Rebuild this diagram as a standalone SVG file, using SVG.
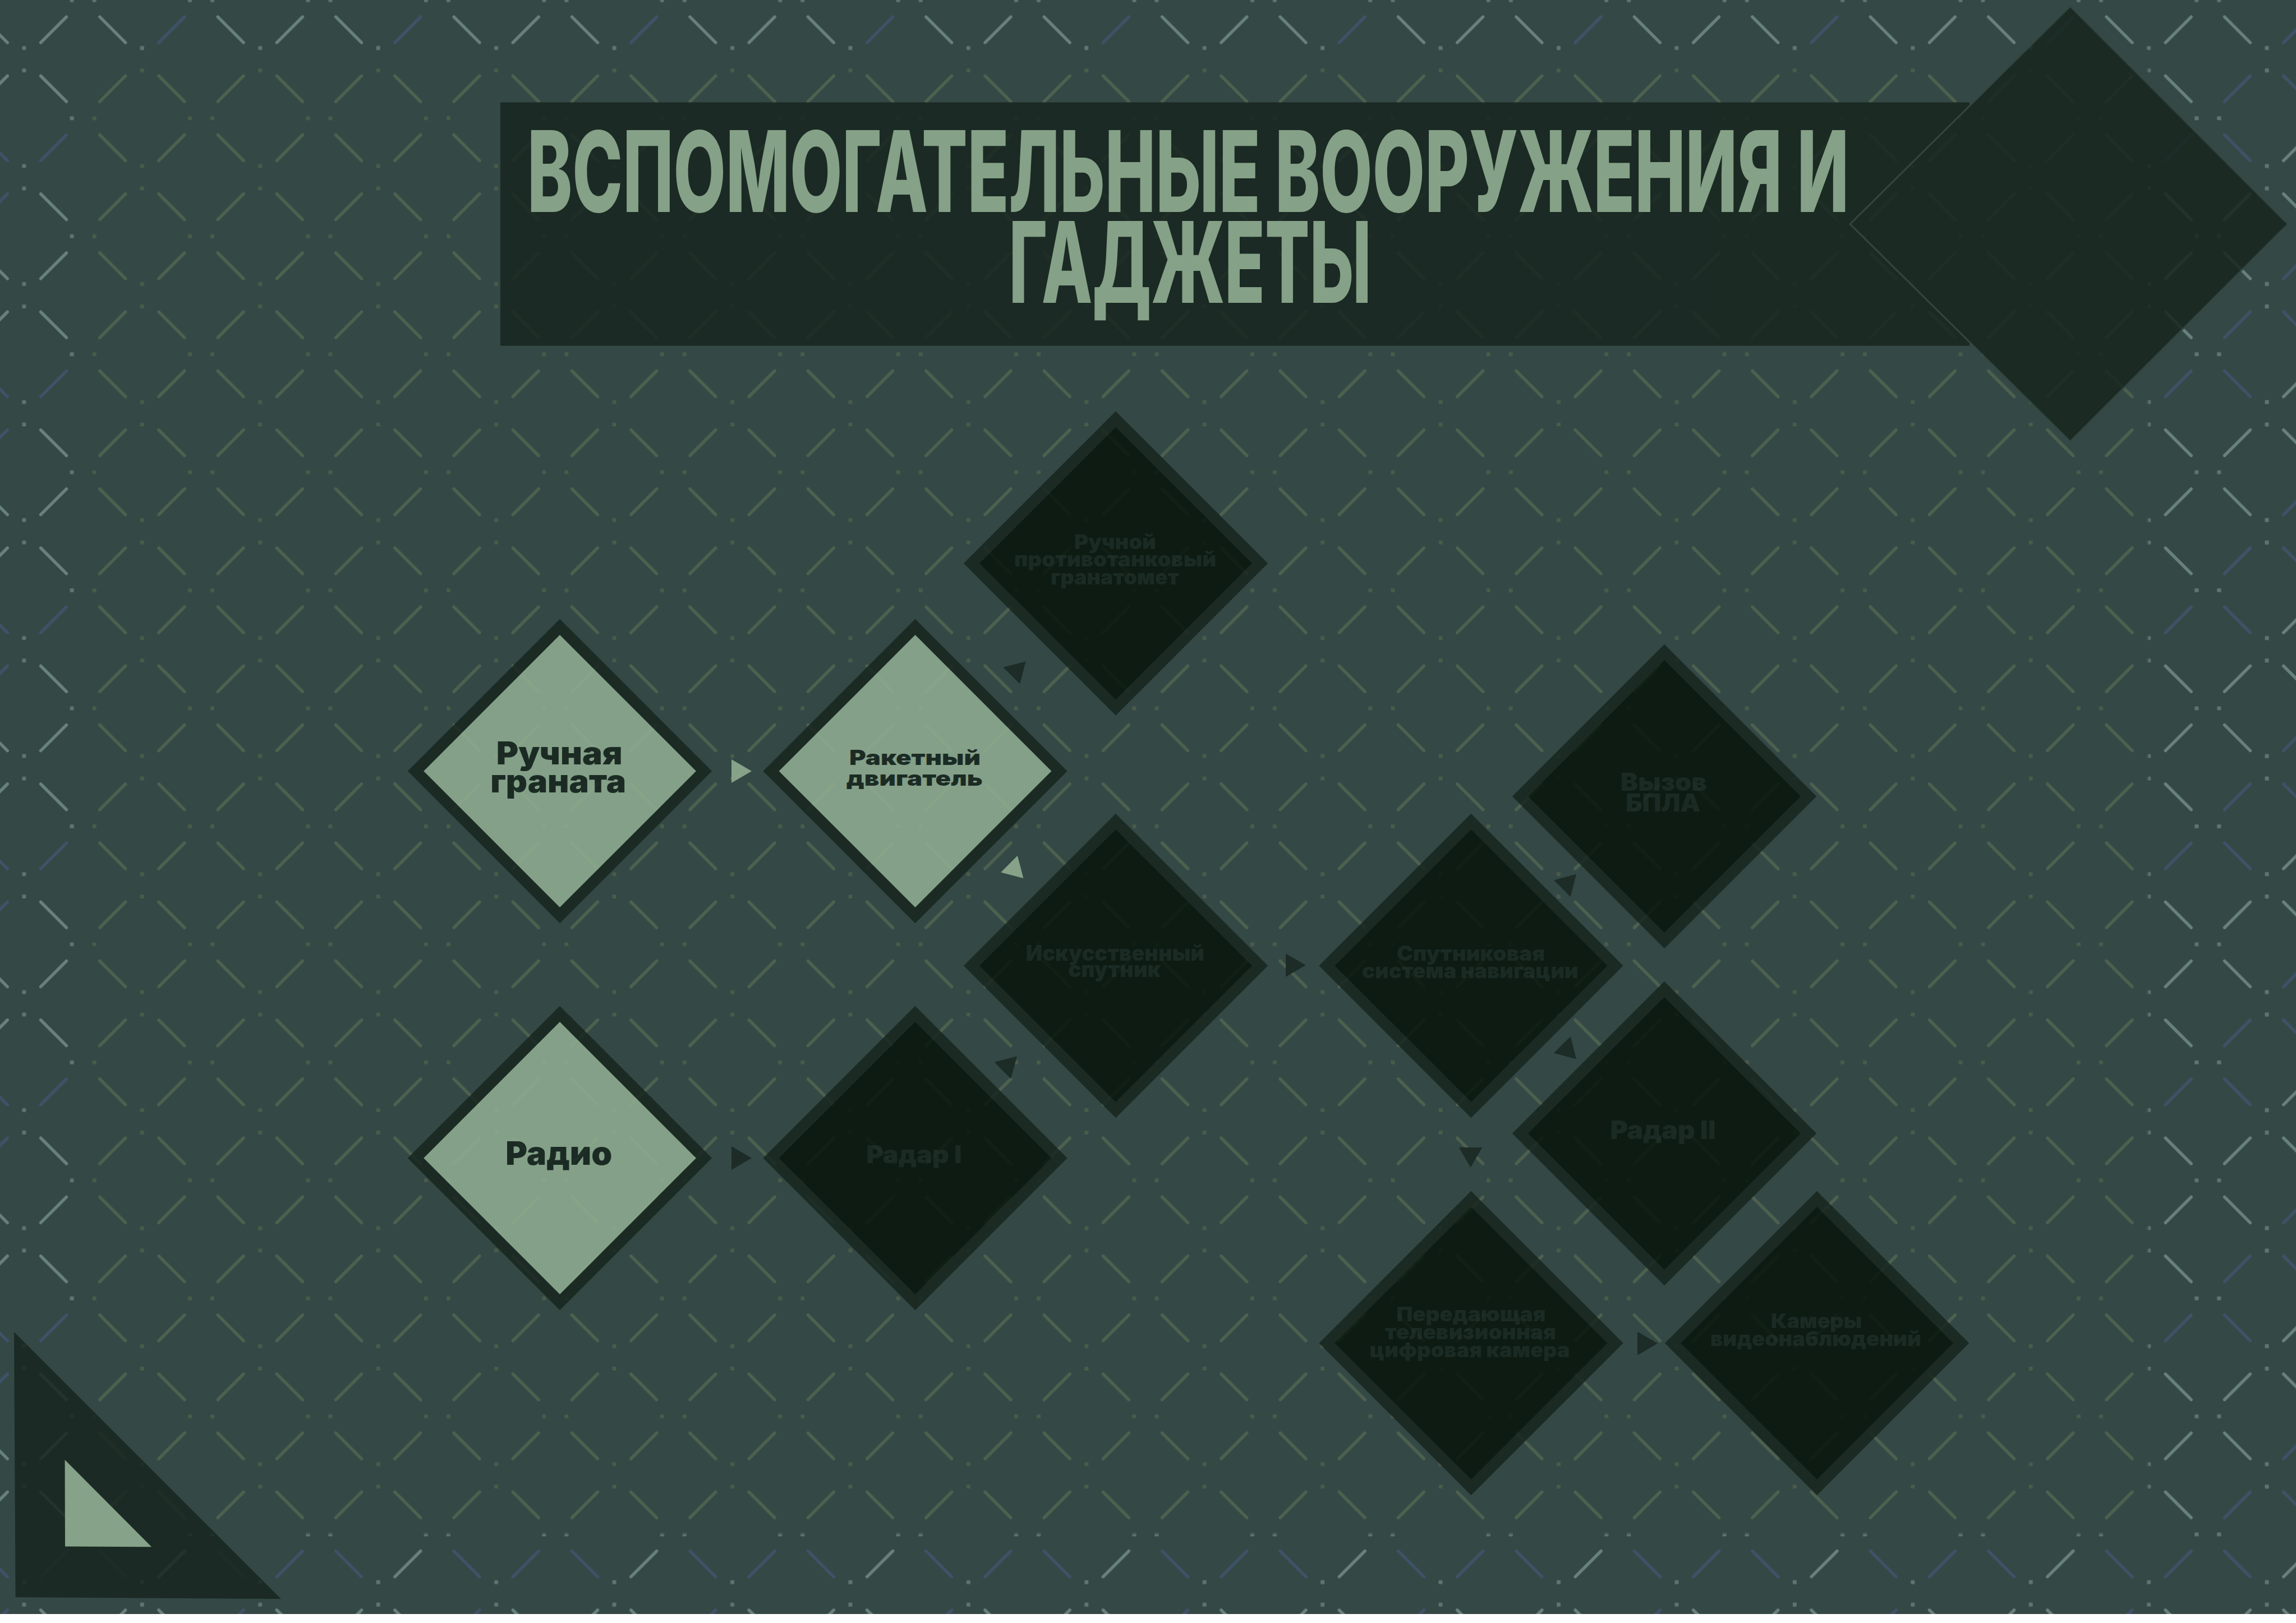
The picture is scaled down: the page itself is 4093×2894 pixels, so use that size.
<svg xmlns="http://www.w3.org/2000/svg" xmlns:xlink="http://www.w3.org/1999/xlink" width="4093" height="2894" viewBox="0 0 4093 2894">
<style>
.d{fill:none;stroke-width:5.5;stroke-linecap:round}
.g{stroke:#68817d}
.b{stroke:#3e5268}
.o{stroke:#4e614f}
.node{opacity:0.85}
.shape{stroke:#17261f;stroke-width:20;stroke-linejoin:miter}
.lit .shape{fill:#92b094}
.drk .shape{fill:#07140b}
.lbl{font-family:Inter,Roboto,"Noto Sans","DejaVu Sans",sans-serif;font-weight:900;fill:#17261f;text-anchor:middle}
.title{font-family:Inter,Roboto,"Liberation Sans",sans-serif;font-weight:800;font-size:200px;fill:#85a187;text-anchor:middle}
.panel{fill:#17261f}
.edge{fill:none;stroke:none}
</style>
<defs>
<g id="dotsg" fill="#5e7471">
<rect x="-3.5" y="81.7" width="7" height="7" rx="1.5"/><rect x="-3.5" y="121.7" width="7" height="7" rx="1.5"/>
<rect x="206.93" y="81.7" width="7" height="7" rx="1.5"/><rect x="206.93" y="121.7" width="7" height="7" rx="1.5"/>
<rect x="81.7" y="-3.5" width="7" height="7" rx="1.5"/><rect x="121.7" y="-3.5" width="7" height="7" rx="1.5"/>
<rect x="81.7" y="206.93" width="7" height="7" rx="1.5"/><rect x="121.7" y="206.93" width="7" height="7" rx="1.5"/>
</g>
<g id="dotso" fill="#4a5b49">
<rect x="-3.5" y="81.7" width="7" height="7" rx="1.5"/><rect x="-3.5" y="121.7" width="7" height="7" rx="1.5"/>
<rect x="206.93" y="81.7" width="7" height="7" rx="1.5"/><rect x="206.93" y="121.7" width="7" height="7" rx="1.5"/>
<rect x="81.7" y="-3.5" width="7" height="7" rx="1.5"/><rect x="121.7" y="-3.5" width="7" height="7" rx="1.5"/>
<rect x="81.7" y="206.93" width="7" height="7" rx="1.5"/><rect x="121.7" y="206.93" width="7" height="7" rx="1.5"/>
</g>
<pattern id="pgb" patternUnits="userSpaceOnUse" x="42.9" y="0.4" width="420.86" height="420.86">
<g class="d">
<line class="g" x1="29.67" y1="75.55" x2="75.55" y2="29.67"/>
<line class="g" x1="134.89" y1="29.67" x2="180.76" y2="75.55"/>
<line class="b" x1="180.76" y1="134.89" x2="134.89" y2="180.76"/>
<line class="g" x1="75.55" y1="180.76" x2="29.67" y2="134.89"/>
<line class="b" x1="240.1" y1="75.55" x2="285.98" y2="29.67"/>
<line class="g" x1="345.32" y1="29.67" x2="391.19" y2="75.55"/>
<line class="g" x1="391.19" y1="134.89" x2="345.32" y2="180.76"/>
<line class="b" x1="285.98" y1="180.76" x2="240.1" y2="134.89"/>
<line class="b" x1="29.67" y1="285.98" x2="75.55" y2="240.1"/>
<line class="b" x1="134.89" y1="240.1" x2="180.76" y2="285.98"/>
<line class="g" x1="180.76" y1="345.32" x2="134.89" y2="391.19"/>
<line class="g" x1="75.55" y1="391.19" x2="29.67" y2="345.32"/>
<line class="g" x1="240.1" y1="285.98" x2="285.98" y2="240.1"/>
<line class="b" x1="345.32" y1="240.1" x2="391.19" y2="285.98"/>
<line class="b" x1="391.19" y1="345.32" x2="345.32" y2="391.19"/>
<line class="g" x1="285.98" y1="391.19" x2="240.1" y2="345.32"/>
</g>
<use xlink:href="#dotsg"/>
<use xlink:href="#dotsg" x="210.43"/>
<use xlink:href="#dotsg" y="210.43"/>
<use xlink:href="#dotsg" x="210.43" y="210.43"/>
</pattern>
<pattern id="pol" patternUnits="userSpaceOnUse" x="42.9" y="0.4" width="210.43" height="210.43">
<g class="d o">
<line x1="29.67" y1="75.55" x2="75.55" y2="29.67"/>
<line x1="134.89" y1="29.67" x2="180.76" y2="75.55"/>
<line x1="180.76" y1="134.89" x2="134.89" y2="180.76"/>
<line x1="75.55" y1="180.76" x2="29.67" y2="134.89"/>
</g>
<use xlink:href="#dotso"/>
</pattern>
<marker id="al" markerUnits="userSpaceOnUse" viewBox="0 0 36 42" markerWidth="36" markerHeight="42" refX="36" refY="21" orient="auto"><path d="M0,0L36,21L0,42Z" fill="#86a288"/></marker>
<marker id="ad" markerUnits="userSpaceOnUse" viewBox="0 0 36 42" markerWidth="36" markerHeight="42" refX="36" refY="21" orient="auto"><path d="M0,0L36,21L0,42Z" fill="#1d2c26"/></marker>
</defs>

<rect x="0" y="0" width="4093" height="2894" fill="#ffffff"/>
<g id="background">
<rect x="0" y="0" width="4093" height="2878" fill="#344846"/>
<rect x="0" y="0" width="4093" height="2878" fill="url(#pgb)"/>
<rect x="148.1" y="105.6" width="3682" height="2630" fill="#344846"/>
<rect x="148.1" y="105.6" width="3682" height="2630" fill="url(#pol)"/>
</g>

<g id="corner">
<polygon points="25,2375 27.6,2848 501,2851" class="panel" opacity="0.85"/>
<polygon points="115.6,2603 116,2757.6 270.2,2758.3" fill="#86a288"/>
</g>

<g id="title">
<g opacity="0.85">
<rect x="892" y="182.5" width="2619" height="434" class="panel"/>
<polygon points="3690.5,11.2 4078.7,399.5 3690.5,787.2 3298,399.5" class="panel" stroke="#33463f" stroke-width="3"/>
</g>
<text class="title" x="2118" y="378" textLength="2356" lengthAdjust="spacingAndGlyphs">ВСПОМОГАТЕЛЬНЫЕ ВООРУЖЕНИЯ И</text>
<text class="title" x="2121.6" y="540" textLength="646" lengthAdjust="spacingAndGlyphs">ГАДЖЕТЫ</text>
</g>

<g id="connectors">
<path class="edge" d="M1275,1375L1340,1375" marker-end="url(#al)"/>
<path class="edge" d="M1790,1218L1828.6,1179.5" marker-end="url(#ad)"/>
<path class="edge" d="M1785,1526.6L1824.4,1566" marker-end="url(#al)"/>
<path class="edge" d="M1275,2065L1340,2065" marker-end="url(#ad)"/>
<path class="edge" d="M1775,1921L1812.8,1883.6" marker-end="url(#ad)"/>
<path class="edge" d="M2270,1721L2327.7,1721" marker-end="url(#ad)"/>
<path class="edge" d="M2772,1597L2810,1558.8" marker-end="url(#ad)"/>
<path class="edge" d="M2772,1850L2810,1888.5" marker-end="url(#ad)"/>
<path class="edge" d="M2621.5,2020L2621.5,2081.7" marker-end="url(#ad)"/>
<path class="edge" d="M2900,2395.5L2955,2395.5" marker-end="url(#ad)"/>
</g>

<g id="n1" class="node lit">
<polygon class="shape" points="998,1118 1255,1375 998,1632 741,1375"/>
<text class="lbl" font-size="56" x="997.3" y="1363" textLength="225" lengthAdjust="spacingAndGlyphs">Ручная</text>
<text class="lbl" font-size="56" x="995.2" y="1413" textLength="242" lengthAdjust="spacingAndGlyphs">граната</text>
</g>
<g id="n2" class="node lit">
<polygon class="shape" points="1631.5,1118 1888.5,1375 1631.5,1632 1374.5,1375"/>
<text class="lbl" font-size="37" x="1631" y="1364" textLength="234" lengthAdjust="spacingAndGlyphs">Ракетный</text>
<text class="lbl" font-size="37" x="1630.3" y="1400.7" textLength="243" lengthAdjust="spacingAndGlyphs">двигатель</text>
</g>
<g id="n3" class="node drk">
<polygon class="shape" points="1989,747.5 2246,1004.5 1989,1261.5 1732,1004.5"/>
<text class="lbl" font-size="36" x="1987.9" y="979" textLength="146" lengthAdjust="spacingAndGlyphs">Ручной</text>
<text class="lbl" font-size="36" x="1988" y="1009.7" textLength="360" lengthAdjust="spacingAndGlyphs">противотанковый</text>
<text class="lbl" font-size="36" x="1987.5" y="1041.5" textLength="229" lengthAdjust="spacingAndGlyphs">гранатомет</text>
</g>
<g id="n4" class="node drk">
<polygon class="shape" points="1989,1465 2246,1722 1989,1979 1732,1722"/>
<text class="lbl" font-size="38" x="1988" y="1712.5" textLength="318" lengthAdjust="spacingAndGlyphs">Искусственный</text>
<text class="lbl" font-size="38" x="1986.8" y="1742" textLength="164.5" lengthAdjust="spacingAndGlyphs">спутник</text>
</g>
<g id="n5" class="node drk">
<polygon class="shape" points="2622.5,1465 2879.5,1722 2622.5,1979 2365.5,1722"/>
<text class="lbl" font-size="36.5" x="2622" y="1713" textLength="264" lengthAdjust="spacingAndGlyphs">Спутниковая</text>
<text class="lbl" font-size="36.5" x="2620.8" y="1744" textLength="385.5" lengthAdjust="spacingAndGlyphs">система навигации</text>
</g>
<g id="n6" class="node drk">
<polygon class="shape" points="2967,1163 3224,1420 2967,1677 2710,1420"/>
<text class="lbl" font-size="44" x="2965.8" y="1410" textLength="154" lengthAdjust="spacingAndGlyphs">Вызов</text>
<text class="lbl" font-size="44" x="2964.8" y="1447" textLength="133" lengthAdjust="spacingAndGlyphs">БПЛА</text>
</g>
<g id="n7" class="node drk">
<polygon class="shape" points="2967,1764 3224,2021 2967,2278 2710,2021"/>
<text class="lbl" font-size="45" x="2964.5" y="2031" textLength="188" lengthAdjust="spacingAndGlyphs">Радар II</text>
</g>
<g id="n8" class="node lit">
<polygon class="shape" points="998,1808 1255,2065 998,2322 741,2065"/>
<text class="lbl" font-size="58" x="996.3" y="2077" textLength="190" lengthAdjust="spacingAndGlyphs">Радио</text>
</g>
<g id="n9" class="node drk">
<polygon class="shape" points="1631.5,1808 1888.5,2065 1631.5,2322 1374.5,2065"/>
<text class="lbl" font-size="44" x="1629.5" y="2073.6" textLength="170" lengthAdjust="spacingAndGlyphs">Радар I</text>
</g>
<g id="n10" class="node drk">
<polygon class="shape" points="2622.5,2138 2879.5,2395 2622.5,2652 2365.5,2395"/>
<text class="lbl" font-size="36" x="2622.5" y="2355.6" textLength="266" lengthAdjust="spacingAndGlyphs">Передающая</text>
<text class="lbl" font-size="36" x="2621.3" y="2387.8" textLength="305" lengthAdjust="spacingAndGlyphs">телевизионная</text>
<text class="lbl" font-size="36" x="2620" y="2419.6" textLength="357" lengthAdjust="spacingAndGlyphs">цифровая камера</text>
</g>
<g id="n11" class="node drk">
<polygon class="shape" points="3239,2138 3496,2395 3239,2652 2982,2395"/>
<text class="lbl" font-size="36" x="3238" y="2367.9" textLength="162" lengthAdjust="spacingAndGlyphs">Камеры</text>
<text class="lbl" font-size="36" x="3236.8" y="2400.4" textLength="376" lengthAdjust="spacingAndGlyphs">видеонаблюдений</text>
</g>
</svg>
